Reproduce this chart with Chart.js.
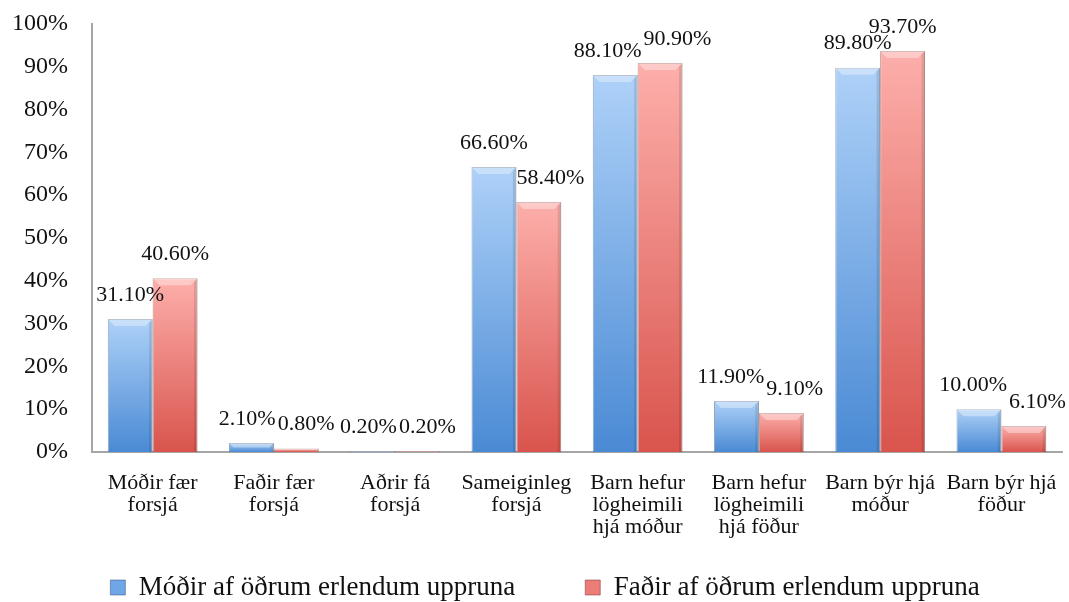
<!DOCTYPE html>
<html>
<head>
<meta charset="utf-8">
<title>Forsjá og búseta barna</title>
<script src="https://cdn.jsdelivr.net/npm/chart.js@4.4.1/dist/chart.umd.min.js"></script>
<style>
  html, body { margin: 0; padding: 0; background: #fff; }
  #chart { display: block; }
</style>
</head>
<body>
<canvas id="chart" width="1069" height="602"></canvas>
<script>
var categories = [
  ["Móðir fær", "forsjá"],
  ["Faðir fær", "forsjá"],
  ["Aðrir fá", "forsjá"],
  ["Sameiginleg", "forsjá"],
  ["Barn hefur", "lögheimili", "hjá móður"],
  ["Barn hefur", "lögheimili", "hjá föður"],
  ["Barn býr hjá", "móður"],
  ["Barn býr hjá", "föður"]
];
var seriesNames = ["Móðir af öðrum erlendum uppruna", "Faðir af öðrum erlendum uppruna"];
var motherValues = [31.1, 2.1, 0.2, 66.6, 88.1, 11.9, 89.8, 10.0];
var fatherValues = [40.6, 0.8, 0.2, 58.4, 90.9, 9.1, 93.7, 6.1];
var yTicks = [0, 10, 20, 30, 40, 50, 60, 70, 80, 90, 100];

var FONT = "'Liberation Serif', 'DejaVu Serif', serif";

var palette = [
  { light: "#aed1f8", dark: "#4a8ad4", edge: "rgba(60,90,130,0.55)", solid: "#6ea6e6" },
  { light: "#fdafab", dark: "#d9544d", edge: "rgba(140,60,60,0.55)", solid: "#ec7c76" }
];

function barGradient(idx) {
  return function (context) {
    var chart = context.chart;
    var p = palette[idx];
    if (!chart.chartArea || context.raw == null) {
      return p.solid;
    }
    var y = chart.scales.y;
    var top = y.getPixelForValue(context.raw);
    var bottom = y.getPixelForValue(0);
    if (bottom - top < 1) {
      bottom = top + 1;
    }
    var g = chart.ctx.createLinearGradient(0, top, 0, bottom);
    g.addColorStop(0, p.light);
    g.addColorStop(1, p.dark);
    return g;
  };
}

// bevelled look of the bars
var bevelPlugin = {
  id: "bevel",
  afterDatasetsDraw: function (chart) {
    var ctx = chart.ctx;
    ctx.save();
    chart.data.datasets.forEach(function (ds, i) {
      var meta = chart.getDatasetMeta(i);
      meta.data.forEach(function (bar) {
        var left = bar.x - bar.width / 2;
        var right = bar.x + bar.width / 2;
        var top = bar.y;
        var bottom = bar.base;
        var h = bottom - top;
        if (h < 2) {
          return;
        }
        var b = Math.min(7, h / 2);
        ctx.fillStyle = "rgba(255,255,255,0.35)";
        ctx.beginPath();
        ctx.moveTo(left, top);
        ctx.lineTo(right, top);
        ctx.lineTo(right - b, top + b);
        ctx.lineTo(left + b, top + b);
        ctx.closePath();
        ctx.fill();
        ctx.fillStyle = "rgba(0,0,0,0.10)";
        ctx.beginPath();
        ctx.moveTo(right, top);
        ctx.lineTo(right, bottom);
        ctx.lineTo(right - b / 2, bottom);
        ctx.lineTo(right - b / 2, top + b / 2);
        ctx.closePath();
        ctx.fill();
      });
    });
    ctx.restore();
  }
};

// value labels above the bars, nudged apart when they collide
var valueLabels = {
  id: "valueLabels",
  afterDatasetsDraw: function (chart) {
    var ctx = chart.ctx;
    ctx.save();
    ctx.font = "22px " + FONT;
    ctx.fillStyle = "#111";
    ctx.textAlign = "center";
    ctx.textBaseline = "middle";
    var m0 = chart.getDatasetMeta(0);
    var m1 = chart.getDatasetMeta(1);
    var d0 = chart.data.datasets[0].data;
    var d1 = chart.data.datasets[1].data;
    m0.data.forEach(function (b0, j) {
      var b1 = m1.data[j];
      var t0 = d0[j].toFixed(2) + "%";
      var t1 = d1[j].toFixed(2) + "%";
      var w0 = ctx.measureText(t0).width;
      var w1 = ctx.measureText(t1).width;
      var x0 = b0.x, y0 = b0.y - 24;
      var x1 = b1.x, y1 = b1.y - 24;
      var dy = y1 - y0;
      var left1 = x1 - w1 / 2;
      if ((dy > -14 && dy < 20)) {
        var ov = (x0 + w0 / 2 + 2) - left1;
        if (ov > 0) {
          x0 -= ov * 0.3;
          x1 += ov * 0.7;
        }
      } else if (y1 + 11 > b0.y) {
        var edge = b0.x + b0.width / 2;
        if (left1 < edge) {
          x1 += edge - left1;
        }
      }
      ctx.fillText(t0, x0, y0);
      ctx.fillText(t1, x1, y1);
    });
    ctx.restore();
  }
};

// legend sits a little right of centre and its row is pulled up
var legendShift = {
  id: "legendShift",
  afterLayout: function (chart) {
    var lg = chart.legend;
    lg.left += 14;
    lg.right += 14;
    lg.top -= 43;
  }
};

new Chart(document.getElementById("chart"), {
  type: "bar",
  data: {
    labels: categories,
    datasets: [
      {
        label: seriesNames[0],
        data: motherValues,
        backgroundColor: barGradient(0),
        borderColor: palette[0].edge,
        borderWidth: 1,
        categoryPercentage: 0.74,
        barPercentage: 1.0
      },
      {
        label: seriesNames[1],
        data: fatherValues,
        backgroundColor: barGradient(1),
        borderColor: palette[1].edge,
        borderWidth: 1,
        categoryPercentage: 0.74,
        barPercentage: 1.0
      }
    ]
  },
  options: {
    responsive: false,
    animation: false,
    layout: {
      padding: { top: 24, right: 7, left: 0, bottom: 0 }
    },
    scales: {
      x: {
        grid: { display: false },
        border: { color: "#a6a6a6", width: 2 },
        ticks: {
          color: "#111",
          font: { family: FONT, size: 22, lineHeight: 1.0 },
          padding: 12,
          autoSkip: false,
          maxRotation: 0
        },
        afterFit: function (scale) { scale.height = 95; }
      },
      y: {
        min: 0,
        max: 100,
        grid: { display: false, drawTicks: false },
        border: { color: "#a6a6a6", width: 2 },
        afterBuildTicks: function (scale) {
          scale.ticks = yTicks.map(function (v) { return { value: v }; });
        },
        ticks: {
          color: "#111",
          font: { family: FONT, size: 24 },
          padding: 24,
          callback: function (v) { return v + "%"; }
        },
        afterFit: function (scale) {
          scale.width = 92;
          scale.paddingTop = 0;
          scale.paddingBottom = 0;
        }
      }
    },
    plugins: {
      legend: {
        position: "bottom",
        maxHeight: 55,
        labels: {
          color: "#111",
          font: { family: FONT, size: 27 },
          boxWidth: 15,
          boxHeight: 15,
          padding: 70,
          generateLabels: function (chart) {
            return chart.data.datasets.map(function (ds, i) {
              return {
                text: ds.label,
                fillStyle: palette[i].solid,
                strokeStyle: palette[i].edge,
                lineWidth: 1,
                fontColor: "#111",
                datasetIndex: i
              };
            });
          }
        }
      },
      tooltip: { enabled: false }
    }
  },
  plugins: [bevelPlugin, valueLabels, legendShift]
});
</script>
</body>
</html>
